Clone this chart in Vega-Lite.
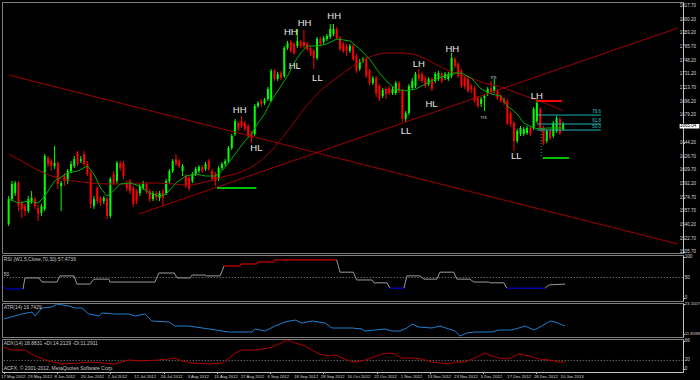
{
  "$schema": "https://vega.github.io/schema/vega-lite/v6.json",
  "background": "#000000",
  "padding": {"left": 0, "top": 1, "right": 0, "bottom": 0},
  "spacing": 2,
  "bounds": "flush",
  "config": {
    "view": {"stroke": "#808080", "strokeWidth": 1},
    "axis": {"labels": false, "domainColor": "#c0c0c0", "tickColor": "#c0c0c0", "tickSize": 1.5, "grid": false, "title": null},
    "text": {"font": "Liberation Sans"}
  },
  "datasets": {
    "candles": [
      {"i":0,"o":1541.1,"h":1576.6,"l":1538.6,"c":1572.8},
      {"i":1,"o":1572.8,"h":1595.7,"l":1570.3,"c":1591.9},
      {"i":2,"o":1580.4,"h":1595.7,"l":1576.6,"c":1593.1},
      {"i":3,"o":1593.1,"h":1595.7,"l":1557.6,"c":1564.0},
      {"i":4,"o":1567.8,"h":1570.3,"l":1548.8,"c":1560.2},
      {"i":5,"o":1564.0,"h":1566.5,"l":1551.3,"c":1557.6},
      {"i":6,"o":1557.6,"h":1576.6,"l":1555.1,"c":1572.8},
      {"i":7,"o":1570.3,"h":1583.0,"l":1566.5,"c":1574.1},
      {"i":8,"o":1572.8,"h":1575.4,"l":1560.2,"c":1564.0},
      {"i":9,"o":1561.4,"h":1565.2,"l":1544.9,"c":1553.8},
      {"i":10,"o":1555.1,"h":1566.5,"l":1551.3,"c":1564.0},
      {"i":11,"o":1560.2,"h":1629.9,"l":1557.6,"c":1627.4},
      {"i":12,"o":1624.8,"h":1627.4,"l":1613.4,"c":1617.2},
      {"i":13,"o":1621.0,"h":1623.5,"l":1608.3,"c":1614.7},
      {"i":14,"o":1614.7,"h":1640.0,"l":1610.9,"c":1618.5},
      {"i":15,"o":1618.5,"h":1621.0,"l":1585.5,"c":1591.9},
      {"i":16,"o":1589.3,"h":1595.7,"l":1557.6,"c":1593.1},
      {"i":17,"o":1602.0,"h":1605.8,"l":1589.3,"c":1595.7},
      {"i":18,"o":1595.7,"h":1610.9,"l":1591.9,"c":1608.3},
      {"i":19,"o":1608.3,"h":1621.0,"l":1605.8,"c":1617.2},
      {"i":20,"o":1614.7,"h":1627.4,"l":1612.1,"c":1623.5},
      {"i":21,"o":1631.2,"h":1633.7,"l":1614.7,"c":1617.2},
      {"i":22,"o":1621.0,"h":1627.4,"l":1618.5,"c":1623.5},
      {"i":23,"o":1629.9,"h":1633.7,"l":1614.7,"c":1617.2},
      {"i":24,"o":1617.2,"h":1621.0,"l":1602.0,"c":1604.5},
      {"i":25,"o":1605.8,"h":1608.3,"l":1561.4,"c":1566.5},
      {"i":26,"o":1564.0,"h":1576.6,"l":1560.2,"c":1572.8},
      {"i":27,"o":1586.8,"h":1589.3,"l":1566.5,"c":1570.3},
      {"i":28,"o":1574.1,"h":1576.6,"l":1564.0,"c":1567.8},
      {"i":29,"o":1570.3,"h":1576.6,"l":1566.5,"c":1574.1},
      {"i":30,"o":1572.8,"h":1575.4,"l":1547.5,"c":1551.3},
      {"i":31,"o":1551.3,"h":1600.7,"l":1548.8,"c":1598.2},
      {"i":32,"o":1604.5,"h":1608.3,"l":1590.6,"c":1593.1},
      {"i":33,"o":1595.7,"h":1621.0,"l":1593.1,"c":1618.5},
      {"i":34,"o":1618.5,"h":1621.0,"l":1608.3,"c":1612.1},
      {"i":35,"o":1617.2,"h":1621.0,"l":1598.2,"c":1602.0},
      {"i":36,"o":1593.1,"h":1595.7,"l":1583.0,"c":1586.8},
      {"i":37,"o":1595.7,"h":1598.2,"l":1579.2,"c":1583.0},
      {"i":38,"o":1586.8,"h":1589.3,"l":1562.7,"c":1566.5},
      {"i":39,"o":1583.0,"h":1585.5,"l":1566.5,"c":1570.3},
      {"i":40,"o":1580.4,"h":1591.9,"l":1576.6,"c":1589.3},
      {"i":41,"o":1586.8,"h":1595.7,"l":1584.3,"c":1591.9},
      {"i":42,"o":1591.9,"h":1594.4,"l":1579.2,"c":1583.0},
      {"i":43,"o":1583.0,"h":1585.5,"l":1569.0,"c":1572.8},
      {"i":44,"o":1572.8,"h":1583.0,"l":1570.3,"c":1580.4},
      {"i":45,"o":1580.4,"h":1583.0,"l":1571.6,"c":1574.1},
      {"i":46,"o":1574.1,"h":1583.0,"l":1570.3,"c":1580.4},
      {"i":47,"o":1583.0,"h":1585.5,"l":1564.0,"c":1574.1},
      {"i":48,"o":1580.4,"h":1598.2,"l":1577.9,"c":1595.7},
      {"i":49,"o":1595.7,"h":1610.9,"l":1593.1,"c":1608.3},
      {"i":50,"o":1608.3,"h":1623.5,"l":1605.8,"c":1621.0},
      {"i":51,"o":1623.5,"h":1629.9,"l":1614.7,"c":1617.2},
      {"i":52,"o":1621.0,"h":1623.5,"l":1612.1,"c":1614.7},
      {"i":53,"o":1608.3,"h":1617.2,"l":1602.0,"c":1614.7},
      {"i":54,"o":1602.0,"h":1604.5,"l":1586.8,"c":1589.3},
      {"i":55,"o":1599.5,"h":1602.0,"l":1583.0,"c":1586.8},
      {"i":56,"o":1595.7,"h":1607.1,"l":1593.1,"c":1604.5},
      {"i":57,"o":1604.5,"h":1613.4,"l":1602.0,"c":1610.9},
      {"i":58,"o":1608.3,"h":1615.9,"l":1605.8,"c":1613.4},
      {"i":59,"o":1613.4,"h":1615.9,"l":1605.8,"c":1608.3},
      {"i":60,"o":1610.9,"h":1619.7,"l":1608.3,"c":1617.2},
      {"i":61,"o":1621.0,"h":1623.5,"l":1608.3,"c":1610.9},
      {"i":62,"o":1608.3,"h":1610.9,"l":1595.7,"c":1598.2},
      {"i":63,"o":1604.5,"h":1607.1,"l":1589.3,"c":1595.7},
      {"i":64,"o":1598.2,"h":1614.7,"l":1595.7,"c":1612.1},
      {"i":65,"o":1612.1,"h":1619.7,"l":1609.6,"c":1617.2},
      {"i":66,"o":1617.2,"h":1623.5,"l":1614.7,"c":1621.0},
      {"i":67,"o":1621.0,"h":1640.0,"l":1618.5,"c":1637.5},
      {"i":68,"o":1637.5,"h":1655.3,"l":1635.0,"c":1652.7},
      {"i":69,"o":1655.3,"h":1674.3,"l":1652.7,"c":1671.7},
      {"i":70,"o":1669.2,"h":1671.7,"l":1659.1,"c":1661.6},
      {"i":71,"o":1671.7,"h":1678.1,"l":1662.9,"c":1665.4},
      {"i":72,"o":1669.2,"h":1671.7,"l":1659.1,"c":1661.6},
      {"i":73,"o":1665.4,"h":1667.9,"l":1650.2,"c":1652.7},
      {"i":74,"o":1656.5,"h":1659.1,"l":1643.8,"c":1650.2},
      {"i":75,"o":1655.3,"h":1693.3,"l":1652.7,"c":1690.8},
      {"i":76,"o":1690.8,"h":1697.1,"l":1688.2,"c":1694.6},
      {"i":77,"o":1697.1,"h":1699.6,"l":1689.5,"c":1693.3},
      {"i":78,"o":1694.6,"h":1700.9,"l":1692.0,"c":1698.4},
      {"i":79,"o":1699.6,"h":1714.9,"l":1697.1,"c":1712.3},
      {"i":80,"o":1697.1,"h":1737.7,"l":1695.8,"c":1735.1},
      {"i":81,"o":1735.1,"h":1737.7,"l":1722.5,"c":1725.0},
      {"i":82,"o":1725.0,"h":1733.9,"l":1722.5,"c":1731.3},
      {"i":83,"o":1732.6,"h":1735.1,"l":1723.7,"c":1726.3},
      {"i":84,"o":1728.8,"h":1766.8,"l":1726.3,"c":1764.3},
      {"i":85,"o":1764.3,"h":1773.2,"l":1761.8,"c":1770.6},
      {"i":86,"o":1771.9,"h":1774.5,"l":1758.0,"c":1760.5},
      {"i":87,"o":1769.4,"h":1771.9,"l":1755.4,"c":1758.0},
      {"i":88,"o":1766.8,"h":1788.4,"l":1764.3,"c":1773.2},
      {"i":89,"o":1771.9,"h":1774.5,"l":1764.3,"c":1766.8},
      {"i":90,"o":1771.9,"h":1787.1,"l":1764.3,"c":1766.8},
      {"i":91,"o":1769.4,"h":1771.9,"l":1760.5,"c":1763.0},
      {"i":92,"o":1764.3,"h":1766.8,"l":1754.2,"c":1756.7},
      {"i":93,"o":1760.5,"h":1763.0,"l":1737.7,"c":1751.6},
      {"i":94,"o":1751.6,"h":1778.3,"l":1749.1,"c":1775.7},
      {"i":95,"o":1775.7,"h":1778.3,"l":1766.8,"c":1769.4},
      {"i":96,"o":1771.9,"h":1779.5,"l":1769.4,"c":1777.0},
      {"i":97,"o":1775.7,"h":1782.1,"l":1773.2,"c":1779.5},
      {"i":98,"o":1778.3,"h":1794.7,"l":1775.7,"c":1788.4},
      {"i":99,"o":1782.1,"h":1794.7,"l":1779.5,"c":1788.4},
      {"i":100,"o":1788.4,"h":1790.9,"l":1774.5,"c":1777.0},
      {"i":101,"o":1777.0,"h":1779.5,"l":1760.5,"c":1763.0},
      {"i":102,"o":1769.4,"h":1771.9,"l":1758.0,"c":1760.5},
      {"i":103,"o":1766.8,"h":1769.4,"l":1754.2,"c":1760.5},
      {"i":104,"o":1760.5,"h":1769.4,"l":1758.0,"c":1766.8},
      {"i":105,"o":1766.8,"h":1769.4,"l":1747.8,"c":1750.4},
      {"i":106,"o":1754.2,"h":1756.7,"l":1732.6,"c":1735.1},
      {"i":107,"o":1737.7,"h":1750.4,"l":1735.1,"c":1747.8},
      {"i":108,"o":1747.8,"h":1752.9,"l":1745.3,"c":1750.4},
      {"i":109,"o":1750.4,"h":1752.9,"l":1726.3,"c":1728.8},
      {"i":110,"o":1735.1,"h":1737.7,"l":1717.4,"c":1719.9},
      {"i":111,"o":1719.9,"h":1728.8,"l":1717.4,"c":1726.3},
      {"i":112,"o":1726.3,"h":1728.8,"l":1702.2,"c":1707.2},
      {"i":113,"o":1716.1,"h":1718.7,"l":1697.1,"c":1700.9},
      {"i":114,"o":1703.4,"h":1713.6,"l":1700.9,"c":1711.1},
      {"i":115,"o":1712.3,"h":1714.9,"l":1699.6,"c":1706.0},
      {"i":116,"o":1713.6,"h":1716.1,"l":1704.7,"c":1707.2},
      {"i":117,"o":1707.2,"h":1714.9,"l":1704.7,"c":1712.3},
      {"i":118,"o":1707.2,"h":1722.5,"l":1704.7,"c":1719.9},
      {"i":119,"o":1719.9,"h":1722.5,"l":1707.2,"c":1709.8},
      {"i":120,"o":1709.8,"h":1712.3,"l":1670.5,"c":1674.3},
      {"i":121,"o":1674.3,"h":1684.4,"l":1670.5,"c":1681.9},
      {"i":122,"o":1681.9,"h":1718.7,"l":1679.3,"c":1716.1},
      {"i":123,"o":1713.6,"h":1726.3,"l":1711.1,"c":1722.5},
      {"i":124,"o":1716.1,"h":1733.9,"l":1713.6,"c":1731.3},
      {"i":125,"o":1731.3,"h":1737.7,"l":1722.5,"c":1725.0},
      {"i":126,"o":1731.3,"h":1733.9,"l":1719.9,"c":1722.5},
      {"i":127,"o":1726.3,"h":1728.8,"l":1713.6,"c":1716.1},
      {"i":128,"o":1718.7,"h":1727.5,"l":1716.1,"c":1725.0},
      {"i":129,"o":1725.0,"h":1727.5,"l":1709.8,"c":1712.3},
      {"i":130,"o":1722.5,"h":1733.9,"l":1719.9,"c":1731.3},
      {"i":131,"o":1725.0,"h":1735.1,"l":1722.5,"c":1732.6},
      {"i":132,"o":1731.3,"h":1733.9,"l":1719.9,"c":1722.5},
      {"i":133,"o":1726.3,"h":1733.9,"l":1723.7,"c":1731.3},
      {"i":134,"o":1725.0,"h":1733.9,"l":1722.5,"c":1731.3},
      {"i":135,"o":1728.8,"h":1758.0,"l":1726.3,"c":1751.6},
      {"i":136,"o":1750.4,"h":1752.9,"l":1738.9,"c":1741.5},
      {"i":137,"o":1744.0,"h":1746.6,"l":1726.3,"c":1728.8},
      {"i":138,"o":1735.1,"h":1737.7,"l":1713.6,"c":1716.1},
      {"i":139,"o":1726.3,"h":1728.8,"l":1712.3,"c":1716.1},
      {"i":140,"o":1725.0,"h":1727.5,"l":1707.2,"c":1709.8},
      {"i":141,"o":1716.1,"h":1718.7,"l":1707.2,"c":1712.3},
      {"i":142,"o":1713.6,"h":1716.1,"l":1694.6,"c":1697.1},
      {"i":143,"o":1700.9,"h":1703.4,"l":1688.2,"c":1690.8},
      {"i":144,"o":1693.3,"h":1702.2,"l":1689.5,"c":1699.6},
      {"i":145,"o":1700.9,"h":1706.0,"l":1684.4,"c":1703.4},
      {"i":146,"o":1706.0,"h":1714.9,"l":1703.4,"c":1712.3},
      {"i":147,"o":1713.6,"h":1722.5,"l":1706.0,"c":1708.5},
      {"i":148,"o":1709.8,"h":1725.0,"l":1707.2,"c":1716.1},
      {"i":149,"o":1709.8,"h":1712.3,"l":1698.4,"c":1700.9},
      {"i":150,"o":1703.4,"h":1706.0,"l":1694.6,"c":1697.1},
      {"i":151,"o":1699.6,"h":1702.2,"l":1692.0,"c":1694.6},
      {"i":152,"o":1697.1,"h":1699.6,"l":1666.7,"c":1669.2},
      {"i":153,"o":1681.9,"h":1684.4,"l":1664.1,"c":1667.9},
      {"i":154,"o":1669.2,"h":1671.7,"l":1633.7,"c":1646.4},
      {"i":155,"o":1646.4,"h":1661.6,"l":1643.8,"c":1659.1},
      {"i":156,"o":1655.3,"h":1665.4,"l":1652.7,"c":1662.9},
      {"i":157,"o":1655.3,"h":1664.1,"l":1652.7,"c":1661.6},
      {"i":158,"o":1656.5,"h":1665.4,"l":1654.0,"c":1662.9},
      {"i":159,"o":1662.9,"h":1665.4,"l":1652.7,"c":1655.3},
      {"i":160,"o":1662.9,"h":1689.5,"l":1660.3,"c":1687.0},
      {"i":161,"o":1671.7,"h":1699.6,"l":1669.2,"c":1694.6},
      {"i":162,"o":1687.0,"h":1689.5,"l":1659.1,"c":1661.6},
      {"i":163,"o":1662.9,"h":1665.4,"l":1641.3,"c":1643.8},
      {"i":164,"o":1646.4,"h":1661.6,"l":1643.8,"c":1659.1},
      {"i":165,"o":1659.1,"h":1661.6,"l":1647.6,"c":1650.2},
      {"i":166,"o":1652.7,"h":1671.7,"l":1650.2,"c":1669.2},
      {"i":167,"o":1659.1,"h":1678.1,"l":1656.5,"c":1675.5},
      {"i":168,"o":1674.3,"h":1676.8,"l":1654.0,"c":1656.5},
      {"i":169,"o":1661.6,"h":1670.5,"l":1659.1,"c":1667.9}
    ],
    "sma": [
      {"i":0,"p":1629.9},{"i":5,"p":1618.5},{"i":10,"p":1607.1},{"i":15,"p":1599.5},{"i":20,"p":1595.7},{"i":25,"p":1593.1},{"i":30,"p":1591.9},{"i":35,"p":1591.9},{"i":40,"p":1593.1},{"i":45,"p":1593.1},{"i":50,"p":1591.9},{"i":55,"p":1590.6},{"i":60,"p":1594.4},{"i":65,"p":1600.7},{"i":70,"p":1605.8},{"i":75,"p":1615.9},{"i":80,"p":1633.7},{"i":85,"p":1659.1},{"i":90,"p":1687.0},{"i":95,"p":1709.8},{"i":100,"p":1726.3},{"i":105,"p":1741.5},{"i":110,"p":1752.9},{"i":115,"p":1757.9},{"i":120,"p":1757.9},{"i":125,"p":1754.2},{"i":130,"p":1744.0},{"i":135,"p":1733.9},{"i":140,"p":1727.5},{"i":145,"p":1719.9},{"i":150,"p":1714.9},{"i":155,"p":1707.2},{"i":160,"p":1699.6},{"i":165,"p":1692.0},{"i":169,"p":1684.4}
    ],
    "fma": [
      {"i":0,"p":1572.8},{"i":3,"p":1567.8},{"i":6,"p":1570.3},{"i":9,"p":1567.8},{"i":11,"p":1576.6},{"i":14,"p":1595.7},{"i":18,"p":1605.8},{"i":21,"p":1608.3},{"i":24,"p":1614.7},{"i":26,"p":1604.5},{"i":28,"p":1586.8},{"i":30,"p":1576.6},{"i":32,"p":1583.0},{"i":34,"p":1591.9},{"i":37,"p":1593.1},{"i":40,"p":1589.3},{"i":43,"p":1580.4},{"i":46,"p":1576.6},{"i":48,"p":1579.2},{"i":51,"p":1593.1},{"i":54,"p":1602.0},{"i":57,"p":1604.5},{"i":60,"p":1602.0},{"i":63,"p":1602.0},{"i":65,"p":1608.3},{"i":67,"p":1618.5},{"i":69,"p":1629.9},{"i":72,"p":1646.4},{"i":74,"p":1655.3},{"i":76,"p":1669.2},{"i":78,"p":1680.6},{"i":80,"p":1697.1},{"i":83,"p":1716.1},{"i":85,"p":1728.8},{"i":87,"p":1745.3},{"i":89,"p":1758.0},{"i":91,"p":1766.8},{"i":94,"p":1766.8},{"i":97,"p":1769.4},{"i":100,"p":1775.7},{"i":102,"p":1774.5},{"i":104,"p":1773.2},{"i":107,"p":1763.0},{"i":110,"p":1750.4},{"i":113,"p":1732.6},{"i":116,"p":1718.7},{"i":118,"p":1712.3},{"i":121,"p":1709.8},{"i":124,"p":1712.3},{"i":127,"p":1718.7},{"i":130,"p":1725.0},{"i":133,"p":1728.8},{"i":136,"p":1732.6},{"i":138,"p":1732.6},{"i":141,"p":1726.3},{"i":144,"p":1712.3},{"i":147,"p":1706.0},{"i":150,"p":1703.4},{"i":152,"p":1690.8},{"i":155,"p":1680.6},{"i":157,"p":1669.2},{"i":160,"p":1662.9},{"i":162,"p":1661.6},{"i":164,"p":1662.9},{"i":167,"p":1662.9},{"i":169,"p":1662.9}
    ],
    "trend": [
      {"id":"a","i":0,"p":1730.1},{"id":"a","i":204,"p":1515.8},
      {"id":"b","i":39.7,"p":1553.8},{"id":"b","i":204,"p":1789.7}
    ],
    "ghl": [
      {"id":"g1","i":63.5,"p":1586.8},{"id":"g1","i":75.5,"p":1586.8},
      {"id":"g2","i":162.8,"p":1624.8},{"id":"g2","i":170.8,"p":1624.8}
    ],
    "rhl": [{"i":161,"p":1697.1},{"i":168.6,"p":1697.1}],
    "fib": [
      {"id":"f1","i":161,"p":1679.3},{"id":"f1","i":180.5,"p":1679.3},
      {"id":"f2","i":161,"p":1667.9},{"id":"f2","i":180.5,"p":1667.9},
      {"id":"f3","i":161,"p":1660.3},{"id":"f3","i":180.5,"p":1660.3}
    ],
    "fibv": [{"i":162.3,"p":1662.9},{"i":162.3,"p":1624.8}],
    "fibt": [
      {"i":180.5,"p":1679.3,"t":"78.6"},{"i":180.5,"p":1667.9,"t":"61.8"},{"i":180.5,"p":1660.3,"t":"50.0"}
    ],
    "price": [{"i1":204.5,"i2":210.5,"p1":1662.2,"p2":1667.8,"t":"1665.04"}],
    "ylab": [
      {"p":1817.7,"t":"1817.70"},{"p":1800.2,"t":"1800.20"},{"p":1783.2,"t":"1783.20"},{"p":1765.7,"t":"1765.70"},{"p":1748.2,"t":"1748.20"},{"p":1731.2,"t":"1731.20"},{"p":1713.7,"t":"1713.70"},{"p":1696.2,"t":"1696.20"},{"p":1679.2,"t":"1679.20"},{"p":1644.2,"t":"1644.20"},{"p":1626.7,"t":"1626.70"},{"p":1609.7,"t":"1609.70"},{"p":1592.2,"t":"1592.20"},{"p":1574.7,"t":"1574.70"},{"p":1557.7,"t":"1557.70"},{"p":1540.2,"t":"1540.20"},{"p":1522.7,"t":"1522.70"},{"p":1505.7,"t":"1505.70"}
    ],
    "dates": [
      {"i":0,"t":"17 May 2012"},{"i":8,"t":"29 May 2012"},{"i":16,"t":"8 Jun 2012"},{"i":24,"t":"20 Jun 2012"},{"i":32,"t":"2 Jul 2012"},{"i":40,"t":"12 Jul 2012"},{"i":48,"t":"24 Jul 2012"},{"i":56,"t":"3 Aug 2012"},{"i":64,"t":"15 Aug 2012"},{"i":72,"t":"27 Aug 2012"},{"i":80,"t":"6 Sep 2012"},{"i":88,"t":"18 Sep 2012"},{"i":96,"t":"28 Sep 2012"},{"i":104,"t":"10 Oct 2012"},{"i":112,"t":"22 Oct 2012"},{"i":120,"t":"1 Nov 2012"},{"i":128,"t":"13 Nov 2012"},{"i":136,"t":"23 Nov 2012"},{"i":144,"t":"5 Dec 2012"},{"i":152,"t":"17 Dec 2012"},{"i":160,"t":"28 Dec 2012"},{"i":168,"t":"10 Jan 2013"}
    ],
    "labels": [
      {"i":70.4,"p":1685.7,"t":"HH"},{"i":75.5,"p":1637.5,"t":"HL"},{"i":86,"p":1784.6,"t":"HH"},{"i":90.2,"p":1796.0,"t":"HH"},{"i":87.2,"p":1741.5,"t":"HL"},{"i":94.1,"p":1726.3,"t":"LL"},{"i":99.2,"p":1804.9,"t":"HH"},{"i":125,"p":1744.0,"t":"LH"},{"i":128.9,"p":1693.3,"t":"HL"},{"i":135.2,"p":1763.0,"t":"HH"},{"i":121.1,"p":1659.1,"t":"LL"},{"i":161,"p":1703.4,"t":"LH"},{"i":154.7,"p":1627.4,"t":"LL"}
    ],
    "small": [
      {"i":147.8,"p":1727.5,"t":"rrs"},{"i":144.8,"p":1676.8,"t":"rrs"}
    ],
    "rsi": [
      {"s":"b1","k":"blue","i":0,"v":28},{"s":"b1","k":"blue","i":0.8,"v":22},{"s":"b1","k":"blue","i":5.8,"v":22},
      {"s":"g1","k":"gray","i":5.8,"v":22},{"s":"g1","k":"gray","i":6.4,"v":49},{"s":"g1","k":"gray","i":10.6,"v":49},{"s":"g1","k":"gray","i":11.5,"v":39},{"s":"g1","k":"gray","i":16,"v":39},{"s":"g1","k":"gray","i":16.9,"v":54},{"s":"g1","k":"gray","i":21.1,"v":54},{"s":"g1","k":"gray","i":22,"v":34},{"s":"g1","k":"gray","i":25.9,"v":34},{"s":"g1","k":"gray","i":27.1,"v":46},{"s":"g1","k":"gray","i":31.6,"v":46},{"s":"g1","k":"gray","i":31.9,"v":39},{"s":"g1","k":"gray","i":45.4,"v":39},{"s":"g1","k":"gray","i":46.6,"v":61},{"s":"g1","k":"gray","i":51.2,"v":61},{"s":"g1","k":"gray","i":52.1,"v":49},{"s":"g1","k":"gray","i":56,"v":49},{"s":"g1","k":"gray","i":56.6,"v":56},{"s":"g1","k":"gray","i":60.5,"v":56},{"s":"g1","k":"gray","i":61,"v":54},{"s":"g1","k":"gray","i":65,"v":54},{"s":"g1","k":"gray","i":66.2,"v":78},
      {"s":"r1","k":"red","i":66.2,"v":78},{"s":"r1","k":"red","i":71,"v":78},{"s":"r1","k":"red","i":71.3,"v":83},{"s":"r1","k":"red","i":76,"v":83},{"s":"r1","k":"red","i":76.4,"v":88},{"s":"r1","k":"red","i":81,"v":88},{"s":"r1","k":"red","i":81.3,"v":93},{"s":"r1","k":"red","i":100,"v":93},
      {"s":"g2","k":"gray","i":100,"v":93},{"s":"g2","k":"gray","i":101,"v":63},{"s":"g2","k":"gray","i":105,"v":63},{"s":"g2","k":"gray","i":106,"v":44},{"s":"g2","k":"gray","i":110.6,"v":44},{"s":"g2","k":"gray","i":111.2,"v":37},{"s":"g2","k":"gray","i":115.1,"v":37},{"s":"g2","k":"gray","i":116,"v":24},
      {"s":"b2","k":"blue","i":116,"v":24},{"s":"b2","k":"blue","i":120.2,"v":24},
      {"s":"g3","k":"gray","i":120.2,"v":24},{"s":"g3","k":"gray","i":121.1,"v":54},{"s":"g3","k":"gray","i":125,"v":54},{"s":"g3","k":"gray","i":126.2,"v":46},{"s":"g3","k":"gray","i":130.1,"v":46},{"s":"g3","k":"gray","i":131,"v":63},{"s":"g3","k":"gray","i":135.2,"v":63},{"s":"g3","k":"gray","i":136.1,"v":46},{"s":"g3","k":"gray","i":140,"v":46},{"s":"g3","k":"gray","i":141.2,"v":39},{"s":"g3","k":"gray","i":145.7,"v":39},{"s":"g3","k":"gray","i":146,"v":37},{"s":"g3","k":"gray","i":150.2,"v":37},{"s":"g3","k":"gray","i":151.1,"v":24},
      {"s":"b3","k":"blue","i":151.1,"v":24},{"s":"b3","k":"blue","i":162.6,"v":24},
      {"s":"g4","k":"gray","i":162.6,"v":24},{"s":"g4","k":"gray","i":163.8,"v":32},{"s":"g4","k":"gray","i":168.6,"v":34}
    ],
    "atr": [
      {"i":0,"v":17.49},{"i":5.5,"v":19.36},{"i":8.5,"v":20.11},{"i":9.4,"v":18.61},{"i":11.5,"v":21.61},{"i":14.5,"v":21.99},{"i":16,"v":23.11},{"i":19.6,"v":22.36},{"i":21.4,"v":21.61},{"i":23.5,"v":21.61},{"i":25.6,"v":19.36},{"i":28.6,"v":18.61},{"i":29.5,"v":19.74},{"i":33.4,"v":19.36},{"i":37.6,"v":19.36},{"i":39.4,"v":18.61},{"i":42.4,"v":19.36},{"i":44.5,"v":16.74},{"i":49.6,"v":16.36},{"i":51.4,"v":14.86},{"i":55.7,"v":14.86},{"i":61.7,"v":13.74},{"i":67.7,"v":12.61},{"i":74.6,"v":12.61},{"i":75.5,"v":13.74},{"i":78.5,"v":12.99},{"i":81.5,"v":14.86},{"i":84.5,"v":16.36},{"i":87.5,"v":17.11},{"i":89.6,"v":15.99},{"i":92.6,"v":16.74},{"i":96.5,"v":15.99},{"i":98.6,"v":14.11},{"i":104.6,"v":14.11},{"i":107.6,"v":13.74},{"i":108.5,"v":12.99},{"i":111.5,"v":13.36},{"i":114.5,"v":13.74},{"i":116.6,"v":12.99},{"i":119,"v":12.99},{"i":121.1,"v":14.11},{"i":122.6,"v":15.61},{"i":124.7,"v":14.49},{"i":128.6,"v":14.11},{"i":131,"v":14.86},{"i":133.7,"v":13.74},{"i":135.5,"v":12.99},{"i":137,"v":11.11},{"i":139.1,"v":12.24},{"i":141.5,"v":12.61},{"i":146.6,"v":12.61},{"i":148.7,"v":13.36},{"i":152.6,"v":13.36},{"i":154.7,"v":14.11},{"i":156.5,"v":14.86},{"i":159.3,"v":13.36},{"i":161.6,"v":14.86},{"i":164.1,"v":16.74},{"i":165.6,"v":16.36},{"i":167.1,"v":15.61},{"i":168.6,"v":14.86}
    ],
    "adx": [
      {"i":0,"v":51.3},{"i":2.5,"v":44.3},{"i":6.4,"v":44.3},{"i":9.4,"v":30.3},{"i":13.6,"v":18.7},{"i":17.5,"v":11.7},{"i":22.6,"v":14.0},{"i":25.6,"v":16.3},{"i":29.5,"v":14.0},{"i":33.4,"v":11.7},{"i":37.6,"v":21.0},{"i":41.5,"v":18.7},{"i":46.6,"v":21.0},{"i":49.6,"v":23.3},{"i":51.4,"v":25.7},{"i":53.5,"v":18.7},{"i":56.5,"v":14.0},{"i":61.7,"v":11.7},{"i":65.6,"v":14.0},{"i":67.7,"v":25.7},{"i":69.5,"v":37.3},{"i":71.6,"v":44.3},{"i":75.5,"v":44.3},{"i":79.7,"v":49.0},{"i":82.7,"v":58.3},{"i":85.1,"v":67.7},{"i":87.5,"v":60.7},{"i":90.5,"v":53.7},{"i":94.7,"v":35.0},{"i":97.7,"v":30.3},{"i":99.5,"v":32.7},{"i":102.5,"v":23.3},{"i":104.6,"v":16.3},{"i":107.6,"v":18.7},{"i":110.6,"v":25.7},{"i":113.6,"v":35.0},{"i":115.7,"v":37.3},{"i":117.5,"v":35.0},{"i":119.6,"v":25.7},{"i":122.6,"v":25.7},{"i":125.6,"v":23.3},{"i":128.6,"v":16.3},{"i":131.6,"v":14.0},{"i":133.7,"v":11.7},{"i":135.5,"v":16.3},{"i":138.5,"v":16.3},{"i":141.5,"v":25.7},{"i":144.5,"v":37.3},{"i":146.6,"v":30.3},{"i":148.7,"v":25.7},{"i":151.7,"v":23.3},{"i":154.7,"v":35.0},{"i":157.7,"v":30.3},{"i":160.8,"v":23.3},{"i":163.8,"v":21.0},{"i":166.8,"v":16.3},{"i":168.6,"v":16.3}
    ]
  },
  "vconcat": [
    {
      "width": 681,
      "height": 251,
      "layer": [
        {
          "data": {"name": "candles"},
          "mark": {"type": "rule", "strokeWidth": 1},
          "encoding": {
            "x": {"field": "i", "type": "quantitative", "scale": {"domain": [-0.5, 204], "nice": false, "zero": false}, "axis": null},
            "y": {"field": "l", "type": "quantitative", "scale": {"domain": [1504.4, 1822.6], "nice": false, "zero": false},
              "axis": {"orient": "right", "values": [1817.7,1800.2,1783.2,1765.7,1748.2,1731.2,1713.7,1696.2,1679.2,1661.7,1644.2,1626.7,1609.7,1592.2,1574.7,1557.7,1540.2,1522.7,1505.7], "labels": false}},
            "y2": {"field": "h"},
            "color": {"condition": {"test": "datum.c >= datum.o", "value": "#00ff00"}, "value": "#ff0000"}
          }
        },
        {
          "data": {"name": "candles"},
          "mark": {"type": "bar", "size": 2},
          "encoding": {
            "x": {"field": "i", "type": "quantitative"},
            "y": {"field": "o", "type": "quantitative"},
            "y2": {"field": "c"},
            "color": {"condition": {"test": "datum.c >= datum.o", "value": "#00ff00"}, "value": "#ff0000"}
          }
        },
        {
          "data": {"name": "sma"},
          "mark": {"type": "line", "color": "#a00000", "strokeWidth": 1, "interpolate": "monotone"},
          "encoding": {"x": {"field": "i", "type": "quantitative"}, "y": {"field": "p", "type": "quantitative"}}
        },
        {
          "data": {"name": "fma"},
          "mark": {"type": "line", "color": "#00b000", "strokeWidth": 1},
          "encoding": {"x": {"field": "i", "type": "quantitative"}, "y": {"field": "p", "type": "quantitative"}}
        },
        {
          "data": {"name": "trend"},
          "mark": {"type": "line", "color": "#a00000", "strokeWidth": 1},
          "encoding": {"x": {"field": "i", "type": "quantitative"}, "y": {"field": "p", "type": "quantitative"}, "detail": {"field": "id"}}
        },
        {
          "data": {"name": "ghl"},
          "mark": {"type": "line", "color": "#00c000", "strokeWidth": 2},
          "encoding": {"x": {"field": "i", "type": "quantitative"}, "y": {"field": "p", "type": "quantitative"}, "detail": {"field": "id"}}
        },
        {
          "data": {"name": "rhl"},
          "mark": {"type": "line", "color": "#ff0000", "strokeWidth": 2},
          "encoding": {"x": {"field": "i", "type": "quantitative"}, "y": {"field": "p", "type": "quantitative"}}
        },
        {
          "data": {"name": "fib"},
          "mark": {"type": "line", "color": "#20b0b0", "strokeWidth": 1},
          "encoding": {"x": {"field": "i", "type": "quantitative"}, "y": {"field": "p", "type": "quantitative"}, "detail": {"field": "id"}}
        },
        {
          "data": {"name": "fibv"},
          "mark": {"type": "line", "color": "#20b0b0", "strokeWidth": 1, "strokeDash": [1, 2]},
          "encoding": {"x": {"field": "i", "type": "quantitative"}, "y": {"field": "p", "type": "quantitative"}}
        },
        {
          "data": {"name": "fibt"},
          "mark": {"type": "text", "color": "#20c0c0", "fontSize": 4.5, "align": "right", "baseline": "bottom", "dy": -1},
          "encoding": {"x": {"field": "i", "type": "quantitative"}, "y": {"field": "p", "type": "quantitative"}, "text": {"field": "t"}}
        },
        {
          "data": {"name": "labels"},
          "mark": {"type": "text", "color": "#e8e8e8", "fontSize": 9.5, "align": "center", "baseline": "middle"},
          "encoding": {"x": {"field": "i", "type": "quantitative"}, "y": {"field": "p", "type": "quantitative"}, "text": {"field": "t"}}
        },
        {
          "data": {"name": "small"},
          "mark": {"type": "text", "color": "#c0c0c0", "fontSize": 5, "align": "center", "baseline": "middle"},
          "encoding": {"x": {"field": "i", "type": "quantitative"}, "y": {"field": "p", "type": "quantitative"}, "text": {"field": "t"}}
        },
        {
          "data": {"name": "ylab"},
          "mark": {"type": "text", "color": "#d8d8d8", "fontSize": 4.5, "align": "left", "baseline": "middle"},
          "encoding": {"x": {"datum": 204.5}, "y": {"field": "p", "type": "quantitative"}, "text": {"field": "t"}}
        },
        {
          "data": {"name": "price"},
          "mark": {"type": "rect", "color": "#ffffff"},
          "encoding": {"x": {"field": "i1", "type": "quantitative"}, "x2": {"field": "i2"}, "y": {"field": "p1", "type": "quantitative"}, "y2": {"field": "p2"}}
        },
        {
          "data": {"name": "price"},
          "mark": {"type": "text", "color": "#000000", "fontSize": 4.5, "align": "left", "baseline": "middle", "dx": 0.3},
          "encoding": {"x": {"field": "i1", "type": "quantitative"}, "y": {"field": "p1", "type": "quantitative"}, "text": {"field": "t"}, "yOffset": {"value": -2.2}}
        }
      ]
    },
    {
      "width": 681,
      "height": 46,
      "layer": [
        {
          "data": {"values": [{"i": 0, "v": 50}, {"i": 204, "v": 50}]},
          "mark": {"type": "line", "color": "#909090", "strokeWidth": 1, "strokeDash": [1, 2]},
          "encoding": {
            "x": {"field": "i", "type": "quantitative", "scale": {"domain": [-0.5, 204], "nice": false, "zero": false}, "axis": null},
            "y": {"field": "v", "type": "quantitative", "scale": {"domain": [-7.3, 104.9], "nice": false, "zero": false}, "axis": {"orient": "right", "values": [0, 50, 100], "labels": false}}
          }
        },
        {
          "data": {"name": "rsi"},
          "mark": {"type": "line", "strokeWidth": 1},
          "encoding": {
            "x": {"field": "i", "type": "quantitative"},
            "y": {"field": "v", "type": "quantitative"},
            "detail": {"field": "s"},
            "color": {"field": "k", "type": "nominal", "scale": {"domain": ["gray", "red", "blue"], "range": ["#9a9a9a", "#ff0000", "#0000ff"]}, "legend": null}
          }
        },
        {
          "data": {"values": [{"v": 0, "t": "0"}, {"v": 50, "t": "50"}, {"v": 100, "t": "100"}]},
          "mark": {"type": "text", "color": "#d8d8d8", "fontSize": 4.5, "align": "left", "baseline": "middle"},
          "encoding": {"x": {"datum": 204.5}, "y": {"field": "v", "type": "quantitative"}, "text": {"field": "t"}}
        },
        {
          "data": {"values": [{"t": "RSI (W1,5,Close,70,30) 57.4736"}]},
          "mark": {"type": "text", "color": "#c8c8c8", "fontSize": 5, "align": "left", "baseline": "top", "dy": 2},
          "encoding": {"x": {"datum": 0}, "y": {"datum": 104.9}, "text": {"field": "t"}}
        },
        {
          "data": {"values": [{"t": "50"}]},
          "mark": {"type": "text", "color": "#c8c8c8", "fontSize": 5, "align": "left", "baseline": "bottom", "dy": -1},
          "encoding": {"x": {"datum": 0}, "y": {"datum": 50}, "text": {"field": "t"}}
        }
      ]
    },
    {
      "width": 681,
      "height": 34,
      "layer": [
        {
          "data": {"name": "atr"},
          "mark": {"type": "line", "color": "#1e7fd0", "strokeWidth": 1},
          "encoding": {
            "x": {"field": "i", "type": "quantitative", "scale": {"domain": [-0.5, 204], "nice": false, "zero": false}, "axis": null},
            "y": {"field": "v", "type": "quantitative", "scale": {"domain": [10.74, 23.49], "nice": false, "zero": false}, "axis": {"orient": "right", "values": [11.86, 23.11], "labels": false}}
          }
        },
        {
          "data": {"values": [{"v": 11.86, "t": "11.8598"}, {"v": 23.11, "t": "23.1107"}]},
          "mark": {"type": "text", "color": "#d8d8d8", "fontSize": 4.3, "align": "left", "baseline": "middle"},
          "encoding": {"x": {"datum": 204.5}, "y": {"field": "v", "type": "quantitative"}, "text": {"field": "t"}}
        },
        {
          "data": {"values": [{"t": "ATR(14) 19.7429"}]},
          "mark": {"type": "text", "color": "#c8c8c8", "fontSize": 5, "align": "left", "baseline": "top", "dy": 2},
          "encoding": {"x": {"datum": 0}, "y": {"datum": 23.49}, "text": {"field": "t"}}
        }
      ]
    },
    {
      "width": 681,
      "height": 33,
      "layer": [
        {
          "data": {"values": [{"i": 0, "v": 20}, {"i": 204, "v": 20}]},
          "mark": {"type": "line", "color": "#909090", "strokeWidth": 1, "strokeDash": [1, 2]},
          "encoding": {
            "x": {"field": "i", "type": "quantitative", "scale": {"domain": [-0.5, 204], "nice": false, "zero": false},
              "axis": {"orient": "bottom", "values": [0,8,16,24,32,40,48,56,64,72,80,88,96,104,112,120,128,136,144,152,160,168], "labels": false}},
            "y": {"field": "v", "type": "quantitative", "scale": {"domain": [-7, 70], "nice": false, "zero": false}, "axis": {"orient": "right", "values": [0, 20, 66], "labels": false}}
          }
        },
        {
          "data": {"name": "adx"},
          "mark": {"type": "line", "color": "#b00000", "strokeWidth": 1},
          "encoding": {"x": {"field": "i", "type": "quantitative"}, "y": {"field": "v", "type": "quantitative"}}
        },
        {
          "data": {"values": [{"v": 0, "t": "0"}, {"v": 20, "t": "20"}, {"v": 66, "t": "66"}]},
          "mark": {"type": "text", "color": "#d8d8d8", "fontSize": 4.5, "align": "left", "baseline": "middle"},
          "encoding": {"x": {"datum": 204.5}, "y": {"field": "v", "type": "quantitative"}, "text": {"field": "t"}}
        },
        {
          "data": {"name": "dates"},
          "mark": {"type": "text", "color": "#d8d8d8", "fontSize": 4.2, "align": "left", "baseline": "top", "dx": -2.5, "dy": 3},
          "encoding": {"x": {"field": "i", "type": "quantitative"}, "y": {"datum": -7}, "text": {"field": "t"}}
        },
        {
          "data": {"values": [{"t": "ADX(14) 18.8831 +DI:14.2129 -DI:11.2911"}]},
          "mark": {"type": "text", "color": "#c8c8c8", "fontSize": 5, "align": "left", "baseline": "top", "dy": 2},
          "encoding": {"x": {"datum": 0}, "y": {"datum": 70}, "text": {"field": "t"}}
        },
        {
          "data": {"values": [{"t": "ACFX, © 2001-2012, MetaQuotes Software Corp."}]},
          "mark": {"type": "text", "color": "#c8c8c8", "fontSize": 5, "align": "left", "baseline": "bottom", "dy": -1},
          "encoding": {"x": {"datum": 0}, "y": {"datum": -7}, "text": {"field": "t"}}
        }
      ]
    }
  ]
}
